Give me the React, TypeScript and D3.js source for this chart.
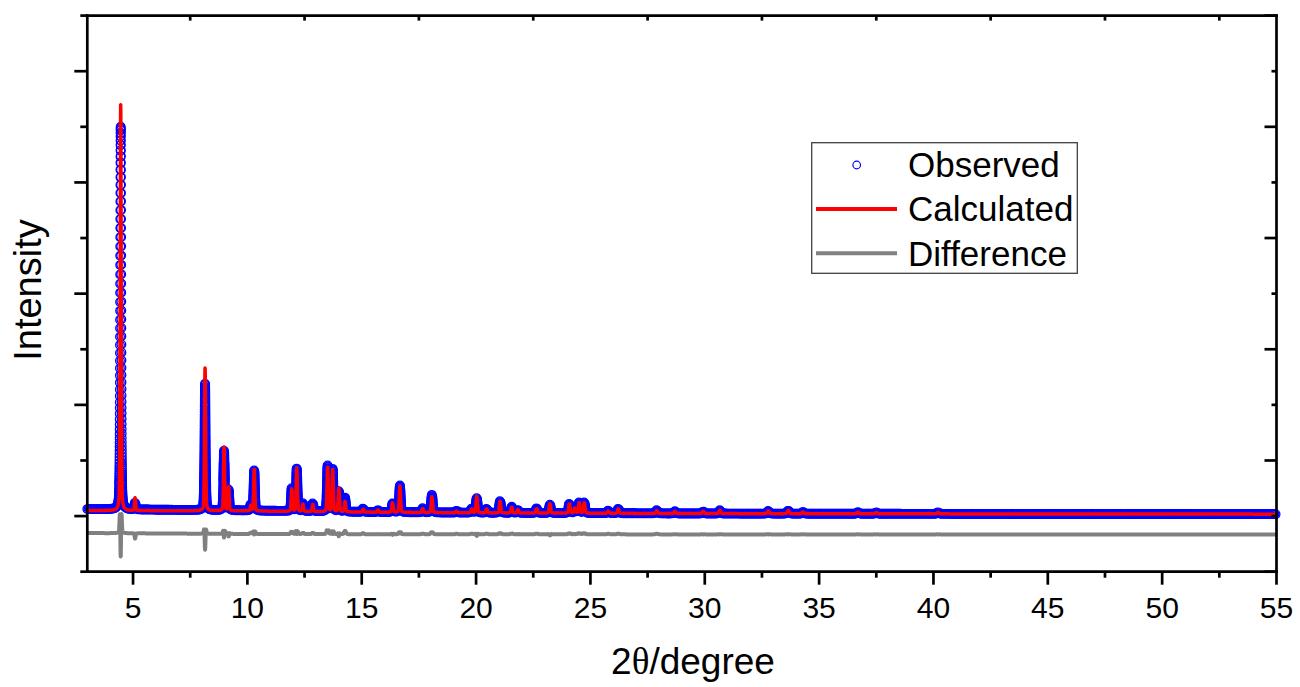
import React, { useMemo } from "react";
import * as d3 from "d3";

// ---- data ----
// Bragg peak positions (2θ, degree)
const peakPos = [4.46, 5.09, 8.15, 8.98, 9.18, 10.15, 10.3, 11.94, 12.16, 12.43, 12.86, 13.51, 13.73, 14.0, 14.27, 15.06, 15.71, 16.35, 16.67, 17.67, 18.07, 19.15, 19.81, 20.03, 20.46, 21.05, 21.56, 21.83, 22.65, 23.23, 24.08, 24.32, 24.51, 24.73, 25.78, 26.22, 27.9, 28.7, 29.93, 30.66, 32.78, 33.65, 34.3, 36.7, 37.5, 40.2];
// observed net peak heights (a.u.)
const obsPeak = [6880, 130, 2280, 1080, 380, 120, 740, 420, 780, 150, 150, 830, 760, 380, 250, 70, 40, 160, 480, 80, 320, 40, 80, 270, 80, 220, 110, 60, 90, 150, 180, 90, 200, 200, 50, 90, 60, 40, 40, 60, 50, 60, 30, 30, 25, 25];
// calculated net peak heights (a.u.)
const calcPeak = [7300, 230, 2570, 1150, 430, 100, 750, 400, 780, 130, 130, 800, 760, 420, 190, 50, 40, 170, 470, 70, 290, 30, 70, 300, 70, 210, 100, 60, 80, 170, 170, 90, 190, 190, 40, 80, 50, 40, 40, 60, 50, 60, 30, 30, 25, 25];
// background knots
const bgX = [3, 6, 10, 15, 20, 30, 40, 55];
const bgObs = [125, 115, 100, 75, 60, 45, 40, 35];
const bgCalc = [100, 97, 92, 72, 57, 45, 40, 35];
const diffOffset = -330;

const xTicks = [5, 10, 15, 20, 25, 30, 35, 40, 45, 50, 55];
const xTickLabels = ["5", "10", "15", "20", "25", "30", "35", "40", "45", "50", "55"];
const xMinorTicks = [7.5, 12.5, 17.5, 22.5, 27.5, 32.5, 37.5, 42.5, 47.5, 52.5];
const yTicks = [-1000, 0, 1000, 2000, 3000, 4000, 5000, 6000, 7000, 8000, 9000];
const legendLabels = ["Observed", "Calculated", "Difference"];

const FONT = "'Liberation Sans', Arial, Helvetica, sans-serif";
const BLUE = "#0000ff";
const RED = "#ff0000";
const GRAY = "#808080";

function pv(t: number, c: number, h: number, w: number, eta: number) {
  const u = (t - c) / w;
  return h * (eta / (1 + 4 * u * u) + (1 - eta) * Math.exp(-4 * Math.LN2 * u * u));
}

export default function App() {
  const x = d3.scaleLinear().domain([3, 55]).range([87.3, 1276.5]);
  const y = d3.scaleLinear().domain([-1000, 9000]).range([571.7, 15.6]);

  const { circles, calcPath, diffPath } = useMemo(() => {
    const bo = d3.scaleLinear().domain(bgX).range(bgObs);
    const bc = d3.scaleLinear().domain(bgX).range(bgCalc);
    const step = 0.001;
    const n = Math.round((55 - 3) / step);
    const obs: [number, number][] = [];
    const calc: [number, number][] = [];
    const diff: [number, number][] = [];
    for (let i = 0; i <= n; i++) {
      const t = 3 + i * step;
      const w = 0.055 + 0.0015 * (t - 4);
      let o = bo(t);
      let c = bc(t);
      for (let k = 0; k < peakPos.length; k++) {
        const d = t - peakPos[k];
        if (d > 1.5 || d < -1.5) continue;
        o += pv(t, peakPos[k], obsPeak[k], w, 0.3);
        c += pv(t, peakPos[k], calcPeak[k], w * 0.9, 0.3);
      }
      obs.push([t, o]);
      calc.push([t, c]);
      diff.push([t, o - c + diffOffset]);
    }
    const thin = (arr: [number, number][], thr: number) => {
      const out: [number, number][] = [];
      let lx = -1e9, ly = -1e9;
      arr.forEach((p, i) => {
        const px = x(p[0]), py = y(p[1]);
        if (i === 0 || i === arr.length - 1 || Math.abs(px - lx) >= thr || Math.abs(py - ly) >= thr) {
          out.push([px, py]);
          lx = px; ly = py;
        }
      });
      return out;
    };
    const circ: [number, number][] = [];
    {
      let lx = -1e9, ly = -1e9;
      obs.forEach((p) => {
        const px = x(p[0]), py = y(p[1]);
        if (Math.hypot(px - lx, py - ly) >= 1.2) {
          circ.push([px, py]);
          lx = px; ly = py;
        }
      });
    }
    const line = d3.line<[number, number]>().x((d) => d[0]).y((d) => d[1]);
    return {
      circles: circ,
      calcPath: line(thin(calc, 0.3)) || "",
      diffPath: line(thin(diff, 0.3)) || "",
    };
  }, []);

  const [x0, x1] = x.range();
  const [yb, yt] = y.range();

  return (
    <svg width={1300} height={687} style={{ position: "absolute", left: 0, top: 0, display: "block" }}>
      <rect x={0} y={0} width={1300} height={687} fill="#fff" />
      {/* observed */}
      <g fill="none" stroke={BLUE} strokeWidth={1.3}>
        {circles.map((c, i) => (
          <circle key={i} cx={c[0]} cy={c[1]} r={4.3} />
        ))}
      </g>
      {/* calculated */}
      <path d={calcPath} fill="none" stroke={RED} strokeWidth={3.5} strokeLinejoin="round" />
      {/* difference */}
      <path d={diffPath} fill="none" stroke={GRAY} strokeWidth={4} strokeLinejoin="round" />

      {/* axes frame */}
      <g stroke="#000" strokeWidth={2.7} strokeLinecap="square">
        <line x1={x0} y1={yb} x2={x1} y2={yb} />
        <line x1={x0} y1={yt} x2={x1} y2={yt} />
        <line x1={x0} y1={yb} x2={x0} y2={yt} />
        <line x1={x1} y1={yb} x2={x1} y2={yt} />
      </g>
      <g stroke="#000" strokeWidth={2.7}>
        {yTicks.map((v) => {
          const even = Math.round(v / 1000) % 2 === 0;
          return (
            <g key={"y" + v}>
              <line x1={x0} x2={x0 - (even ? 13 : 7)} y1={y(v)} y2={y(v)} />
              <line x1={x1} x2={x1 - (even ? 5 : 12)} y1={y(v)} y2={y(v)} />
            </g>
          );
        })}
        {xTicks.map((v) => (
          <line key={"xt" + v} x1={x(v)} x2={x(v)} y1={yb} y2={yb + 13} />
        ))}
        {xMinorTicks.map((v) => (
          <g key={"xm" + v}>
            <line x1={x(v)} x2={x(v)} y1={yb} y2={yb + 6} />
            <line x1={x(v)} x2={x(v)} y1={yt} y2={yt + 5} />
          </g>
        ))}
      </g>
      <g fontFamily={FONT} fontSize={30} textAnchor="middle" fill="#000">
        {xTicks.map((v, i) => (
          <text key={"xl" + v} x={x(v)} y={618}>
            {xTickLabels[i]}
          </text>
        ))}
      </g>
      <text x={693} y={674} fontFamily={FONT} fontSize={37} textAnchor="middle" fill="#000">
        2<tspan fontFamily="'Liberation Serif', 'Times New Roman', serif">θ</tspan>/degree
      </text>
      <text
        transform="translate(41,290) rotate(-90)"
        fontFamily={FONT}
        fontSize={38}
        textAnchor="middle"
        fill="#000"
      >
        Intensity
      </text>

      {/* legend */}
      <rect x={811.7} y={142.7} width={265.6} height={130.6} fill="#fff" stroke="#404040" strokeWidth={1.3} />
      <circle cx={856.7} cy={165} r={3.8} fill="none" stroke={BLUE} strokeWidth={1.2} />
      <line x1={816} x2={897} y1={209} y2={209} stroke={RED} strokeWidth={4} />
      <line x1={816} x2={897} y1={253.3} y2={253.3} stroke={GRAY} strokeWidth={4} />
      <g fontFamily={FONT} fontSize={35} fill="#000">
        {legendLabels.map((l, i) => (
          <text key={l} x={908} y={176.5 + i * 44.5}>
            {l}
          </text>
        ))}
      </g>
    </svg>
  );
}
